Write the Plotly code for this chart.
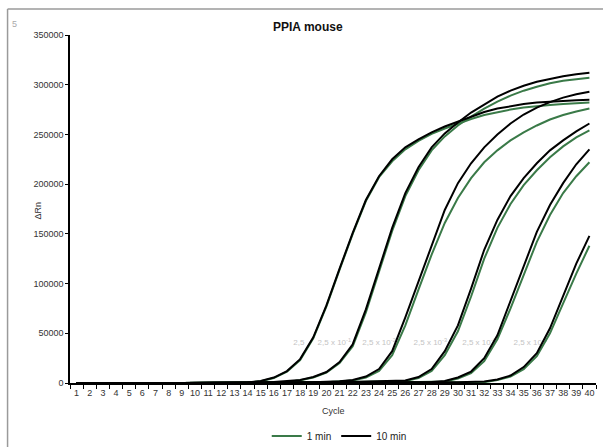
import plotly.graph_objects as go

cycles = list(range(1, 41))

# 1 min (green) series, cycles 1..40 (10 values per row)
d1_1min = [0, 100, 300, 400, 300, 200, 100, 100, 0, 0,
           0, 100, 200, 500, 1800, 5000, 11500, 23000, 45000, 77000,
           114000, 150000, 183000, 207000, 223000, 235000, 243500, 250500, 256000, 261000,
           265500, 269500, 272500, 275000, 277000, 278500, 279500, 280500, 281300, 282000]
d2_1min = [0, 100, 300, 400, 300, 200, 100, 100, 0, 0,
           0, 100, 200, 300, 400, 600, 1000, 2800, 5500, 10500,
           20000, 37000, 71000, 112000, 153000, 188000, 214000, 234000, 248000, 259000,
           268000, 276000, 283000, 289000, 294000, 298000, 301500, 304000, 305500, 307000]
d3_1min = [0, 100, 300, 400, 300, 200, 100, 100, 0, 0,
           0, 100, 200, 200, 300, 400, 500, 600, 700, 800,
           1500, 2500, 5500, 12000, 28000, 58000, 94000, 129000, 161000, 186000,
           206000, 222000, 234000, 244000, 252000, 259000, 265000, 269500, 273000, 276000]
d4_1min = [0, 100, 300, 400, 300, 200, 100, 100, 0, 0,
           0, 100, 200, 200, 300, 300, 400, 500, 600, 700,
           800, 900, 1000, 1200, 1500, 2000, 5000, 12000, 28000, 52000,
           87000, 125000, 156000, 180000, 199000, 214000, 227000, 238000, 247000, 254000]
d5_1min = [0, 100, 300, 400, 300, 200, 100, 100, 0, 0,
           0, 100, 200, 100, 200, 200, 300, 300, 400, 400,
           500, 500, 600, 700, 700, 800, 800, 800, 1500, 4500,
           10000, 22000, 44000, 75000, 109000, 142000, 169000, 191000, 208000, 222000]
d6_1min = [0, 100, 300, 400, 300, 200, 100, 100, 0, 0,
           0, 100, 200, 100, 100, 200, 200, 200, 300, 300,
           300, 400, 400, 400, 500, 500, 500, 600, 600, 700,
           700, 800, 3000, 6500, 14000, 27000, 50000, 80000, 110000, 138000]

# 10 min (black) series, cycles 1..40
d1_10min = [0, 100, 300, 400, 300, 200, 100, 100, 0, 0,
            0, 100, 200, 600, 2000, 5500, 12000, 24000, 46000, 78000,
            115000, 151000, 184000, 208000, 225000, 237000, 245000, 252000, 258000, 263000,
            268000, 272500, 276000, 278500, 280500, 282000, 283000, 284000, 284500, 285000]
d2_10min = [0, 100, 300, 400, 300, 200, 100, 100, 0, 0,
            0, 100, 200, 300, 500, 1000, 2000, 3000, 6000, 11000,
            21000, 39000, 74000, 115000, 156000, 191000, 217000, 237000, 251000, 262000,
            272000, 280000, 288000, 294000, 299000, 303000, 306000, 308500, 310500, 312000]
d3_10min = [0, 100, 300, 400, 300, 200, 100, 100, 0, 0,
            0, 100, 200, 200, 300, 400, 500, 600, 800, 1000,
            1800, 3000, 6500, 14000, 32000, 66000, 102000, 140000, 174000, 201000,
            221000, 237000, 250000, 261000, 270000, 277000, 282500, 287000, 290500, 293000]
d4_10min = [0, 100, 300, 400, 300, 200, 100, 100, 0, 0,
            0, 100, 200, 200, 300, 300, 400, 500, 600, 700,
            800, 1000, 1200, 1500, 1800, 2500, 6000, 14000, 32000, 58000,
            95000, 134000, 164000, 188000, 206000, 221000, 234000, 244000, 253000, 261000]
d5_10min = [0, 100, 300, 400, 300, 200, 100, 100, 0, 0,
            0, 100, 200, 100, 200, 200, 300, 300, 400, 400,
            500, 600, 700, 800, 800, 900, 1000, 1000, 2000, 5500,
            11500, 25000, 48000, 82000, 118000, 152000, 179000, 201000, 220000, 235000]
d6_10min = [0, 100, 300, 400, 300, 200, 100, 100, 0, 0,
            0, 100, 200, 100, 100, 200, 200, 200, 300, 300,
            300, 400, 400, 400, 500, 500, 600, 600, 700, 800,
            1000, 1500, 3500, 7500, 16000, 30000, 55000, 88000, 120000, 148000]

series_1min = [d1_1min, d2_1min, d3_1min, d4_1min, d5_1min, d6_1min]
series_10min = [d1_10min, d2_10min, d3_10min, d4_10min, d5_10min, d6_10min]

dilution_labels = ["2,5", "2,5 x 10<sup>-1</sup>", "2,5 x 10<sup>-2</sup>",
                   "2,5 x 10<sup>-3</sup>", "2,5 x 10<sup>-4</sup>", "2,5 x 10<sup>-5</sup>"]
label_x = [17.9, 20.6, 24.0, 27.9, 31.6, 35.5]
label_y = [40000, 40000, 40000, 40000, 40000, 40000]

y_ticks = [0, 50000, 100000, 150000, 200000, 250000, 300000, 350000]

GREEN = "#3A7A48"
BLACK = "#000000"
FONT = "Liberation Sans, Arial, sans-serif"

fig = go.Figure()

# dilution labels (drawn under the curves)
fig.add_trace(go.Scatter(
    x=label_x, y=label_y, mode="text", text=dilution_labels,
    textfont=dict(family=FONT, size=8, color="#C4C4C4"),
    showlegend=False, hoverinfo="skip"))

for i, s in enumerate(series_1min):
    fig.add_trace(go.Scatter(
        x=cycles, y=s, mode="lines", name="1 min",
        line=dict(color=GREEN, width=2), legendgroup="1min",
        showlegend=(i == 0)))

for i, s in enumerate(series_10min):
    fig.add_trace(go.Scatter(
        x=cycles, y=s, mode="lines", name="10 min",
        line=dict(color=BLACK, width=2), legendgroup="10min",
        showlegend=(i == 0)))

# plot area pixel geometry
L, R, T, B = 69.5, 596.0, 35.0, 383.0
W, H = 603, 447
pw, ph = R - L, B - T

def px(xp):
    return (xp - L) / pw

def py(yp):
    return (B - yp) / ph

fig.update_layout(
    width=W, height=H,
    margin=dict(l=L, r=W - R, t=T, b=H - B, pad=0, autoexpand=False),
    paper_bgcolor="white", plot_bgcolor="white",
    font=dict(family=FONT, size=9, color="#333333"),
    showlegend=True,
    legend=dict(orientation="h", x=px(339), xanchor="center",
                yref="container", y=1 - 436 / H, yanchor="middle",
                font=dict(family=FONT, size=10, color="#222222"),
                itemwidth=30, tracegroupgap=0, bgcolor="rgba(0,0,0,0)"),
    xaxis=dict(range=[0.5, 40.5], tickmode="array", tickvals=cycles,
               ticktext=[str(c) for c in cycles], ticks="",
               showline=True, linecolor="black", linewidth=1.5,
               showgrid=False, zeroline=False, automargin=False,
               tickfont=dict(family=FONT, size=9, color="#333333"),
               minor=dict(tickmode="array", tickvals=[c - 0.5 for c in cycles] + [40.5],
                          ticks="outside", ticklen=4, tickcolor="black", tickwidth=1,
                          showgrid=False)),
    yaxis=dict(range=[0, 350000], tickmode="array", tickvals=y_ticks,
               ticktext=[str(v) for v in y_ticks],
               ticks="outside", ticklen=3, tickcolor="black", tickwidth=1,
               showline=True, linecolor="black", linewidth=1.5,
               showgrid=False, zeroline=False, automargin=False,
               tickfont=dict(family=FONT, size=9, color="#333333")),
    annotations=[
        dict(text="<b>PPIA mouse</b>", xref="paper", yref="paper",
             x=px(308), y=py(27), xanchor="center", yanchor="middle", showarrow=False,
             font=dict(family=FONT, size=12, color="#111111")),
        dict(text="Cycle", xref="paper", yref="paper",
             x=px(333), y=py(411), xanchor="center", yanchor="middle", showarrow=False,
             font=dict(family=FONT, size=9, color="#333333")),
        dict(text="ΔRn", xref="paper", yref="paper", textangle=-90,
             x=px(37), y=py(211), xanchor="center", yanchor="middle", showarrow=False,
             font=dict(family=FONT, size=9, color="#333333")),
        dict(text="5", xref="paper", yref="paper",
             x=px(14), y=py(24), xanchor="center", yanchor="middle", showarrow=False,
             font=dict(family=FONT, size=9, color="#AAAAAA")),
    ],
    shapes=[
        dict(type="line", xref="paper", yref="paper", x0=px(7), x1=px(603), y0=py(9), y1=py(9),
             line=dict(color="#9A9A9A", width=1.5), layer="above"),
        dict(type="line", xref="paper", yref="paper", x0=px(7), x1=px(7), y0=py(9), y1=py(447),
             line=dict(color="#9A9A9A", width=1.5), layer="above"),
    ],
)

fig.write_html("out.html", config={"displayModeBar": False},
               post_script="document.body.style.margin='0px';document.body.style.overflow='hidden';")
